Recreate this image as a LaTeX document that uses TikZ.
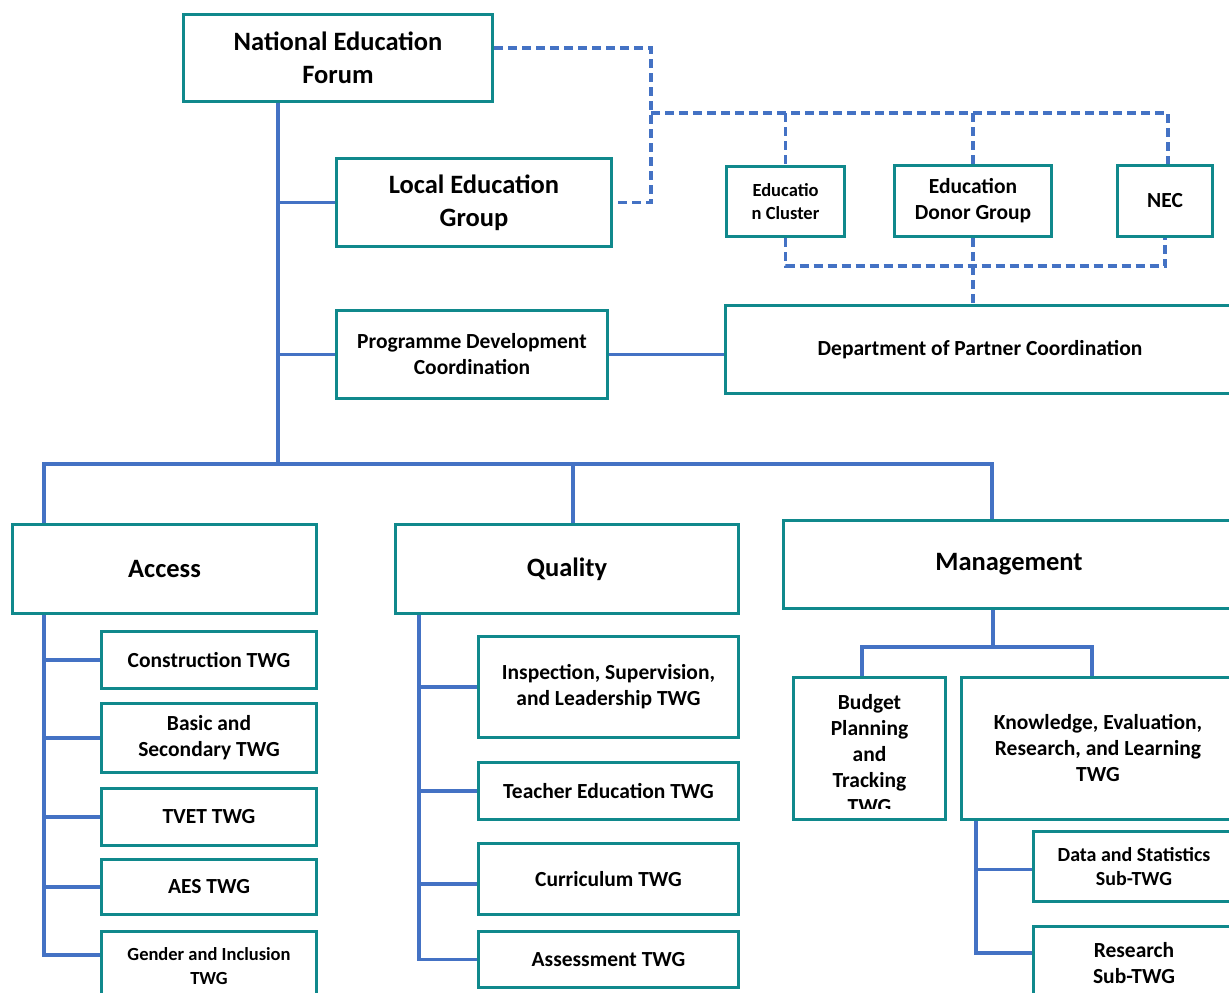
\documentclass[tikz,border=0pt]{standalone}
\usepackage{fontspec}
\setmainfont{Carlito}
\usepackage{xcolor}
\usetikzlibrary{calc}
\definecolor{BoxTeal}{RGB}{16,137,140}
\definecolor{LinkBlue}{RGB}{68,114,196}

\tikzset{
	box/.style={draw=BoxTeal, line width=3pt, fill=white, align=center, inner sep=2pt},
	bigtxt/.style={font=\bfseries\fontsize{26.5}{33}\selectfont},
	midtxt/.style={font=\bfseries\fontsize{21.5}{26}\selectfont},
	smalltxt/.style={font=\bfseries\fontsize{18.5}{23.5}\selectfont},
	link/.style={draw=LinkBlue, line width=3.2pt},
	dashlink/.style={link, dash pattern=on 9pt off 5pt}
}

\begin{document}
\begin{tikzpicture}[x=1pt,y=1pt,yscale=-1,xscale=1]
		% Picture is 1229 wide and 993 high, anything beyond is cut off
		\clip (0,0) rectangle (1229,993);
		\fill[white] (0,0) rectangle (1229,993);

		% Top level boxes
		\node[box, bigtxt, minimum width=309, minimum height=87] (nef) at (338,58) {National Education\\Forum};
		\node[box, bigtxt, minimum width=275, minimum height=88] (leg) at (474,202.5) {Local Education\\Group};
		\node[box, midtxt, minimum width=271, minimum height=88] (pdc) at (472,354.5) {Programme Development\\Coordination};

		% Partner boxes (top right)
		\node[box, smalltxt, minimum width=118, minimum height=70] (ecl) at (785.5,201.5) {Educatio\\n Cluster};
		\node[box, midtxt, minimum width=157, minimum height=71] (edg) at (973,201) {Education\\Donor Group};
		\node[box, midtxt, minimum width=95, minimum height=71] (nec) at (1165,201) {NEC};
		\node[box, midtxt, minimum width=509, minimum height=88] (dpc) at (980,349.5) {Department of Partner Coordination};

		% The three pillars
		\node[box, bigtxt, minimum width=304, minimum height=89] (acc) at (164.5,569) {Access};
		\node[box, bigtxt, minimum width=343, minimum height=89] (qua) at (567,569) {Quality};
		\node[box, bigtxt, minimum width=451, minimum height=88] (man) at (1009,564.5) {Management};

		% TWGs under Access
		\node[box, midtxt, minimum width=215, minimum height=57] (con) at (209,660) {Construction TWG};
		\node[box, midtxt, minimum width=215, minimum height=69] (bas) at (209,738) {Basic and\\Secondary TWG};
		\node[box, midtxt, minimum width=215, minimum height=57] (tve) at (209,817) {TVET TWG};
		\node[box, midtxt, minimum width=215, minimum height=55] (aes) at (209,887) {AES TWG};
		\node[box, smalltxt, minimum width=215, minimum height=69] (gen) at (209,966) {Gender and Inclusion\\TWG};

		% TWGs under Quality
		\node[box, midtxt, minimum width=260, minimum height=101] (ins) at (608.5,687) {Inspection, Supervision,\\and Leadership TWG};
		\node[box, midtxt, minimum width=260, minimum height=57] (tea) at (608.5,791) {Teacher Education TWG};
		\node[box, midtxt, minimum width=260, minimum height=71] (cur) at (608.5,879) {Curriculum TWG};
		\node[box, midtxt, minimum width=260, minimum height=56] (ass) at (608.5,959.5) {Assessment TWG};

		% TWGs under Management
		\node[box, minimum width=152, minimum height=142] (bud) at (869.5,748.5) {};
		\node[box, midtxt, minimum width=273, minimum height=142] (ker) at (1098,748.5) {Knowledge, Evaluation,\\Research, and Learning\\TWG};
		\node[box, font=\bfseries\fontsize{20}{24}\selectfont, minimum width=201, minimum height=70] (dat) at (1134,866.5) {Data and Statistics\\Sub-TWG};
		\node[box, midtxt, minimum width=201, minimum height=73] (res) at (1134,963) {Research\\Sub-TWG};

		% Budget text runs over its box and is cut at the bottom
		\coordinate (budcut) at (946,808);
		\begin{scope}
			\clip (bud.north west) rectangle (budcut);
			\node[midtxt, align=center] (budtxt) at (869.5,754) {Budget\\Planning\\and\\Tracking\\TWG};
		\end{scope}

		% Junction points of the solid lines
		\coordinate (bus) at (278,464);
		\coordinate (accx) at (44,464);
		\coordinate (quax) at (573,464);
		\coordinate (manx) at (992,464);
		\coordinate (quasub) at (419,615);
		\coordinate (manj) at (993,647);
		\coordinate (budj) at (862,647);
		\coordinate (kerj) at (1092,647);
		\coordinate (kersub) at (976,821);

		% Trunk from the forum down to the pillar bus
		\draw[link] (nef.south -| bus) -- (bus);
		\draw[link] (leg.west -| bus) -- (leg.west);
		\draw[link] (pdc.west -| bus) -- (pdc.west);
		\draw[link] (pdc.east) -- (pdc.east -| dpc.west);

		% Pillar bus and drops
		\draw[link] (accx |- acc.north) -- (accx) -- (manx) -- (manx |- man.north);
		\draw[link] (quax) -- (quax |- qua.north);

		% Access branch
		\coordinate (genj) at ($(gen.west)+(0,-11)$);
		\draw[link] (accx |- acc.south) -- (accx |- genj) -- (genj);
		\draw[link] (accx |- con.west) -- (con.west);
		\draw[link] (accx |- bas.west) -- (bas.west);
		\draw[link] (accx |- tve.west) -- (tve.west);
		\draw[link] (accx |- aes.west) -- (aes.west);

		% Quality branch
		\draw[link] (quasub |- qua.south) -- (quasub |- ass.west) -- (ass.west);
		\draw[link] (quasub |- ins.west) -- (ins.west);
		\draw[link] (quasub |- tea.west) -- (tea.west);
		\draw[link] ($(quasub |- cur.west)+(0,5)$) -- ($(cur.west)+(0,5)$);

		% Management branch
		\coordinate (resj) at ($(res.west)+(0,-10)$);
		\draw[link] (manj |- man.south) -- (manj);
		\draw[link] (budj |- bud.north) -- (budj) -- (kerj) -- (kerj |- ker.north);
		\draw[link] (kersub |- ker.south) -- (kersub |- resj) -- (resj);
		\draw[link] ($(kersub |- dat.west)+(0,3)$) -- ($(dat.west)+(0,3)$);

		% Dashed links to the partner groups
		\coordinate (dtop) at (651,48);
		\coordinate (dmid) at (651,113);
		\coordinate (dend) at (1168,113);
		\coordinate (dlow) at (784,266);
		\draw[dashlink] (nef.east |- dtop) -- (dtop) -- (dtop |- leg.east) -- (leg.east);
		\draw[dashlink] (dmid) -- (dend) -- (dend |- nec.north);
		\draw[dashlink] (ecl.north |- dmid) -- (ecl.north);
		\draw[dashlink] (edg.north |- dmid) -- (edg.north);
		\draw[dashlink] (ecl.south) -- (ecl.south |- dlow) -- (nec.south |- dlow) -- (nec.south);
		\draw[dashlink] (edg.south) -- (edg.south |- dpc.north);
	\end{tikzpicture}
\end{document}
